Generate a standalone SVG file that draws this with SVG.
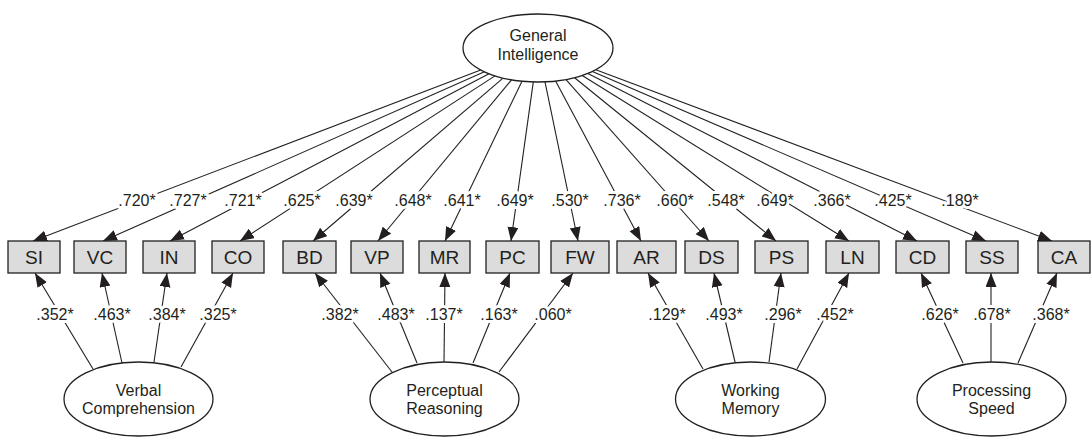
<svg xmlns="http://www.w3.org/2000/svg" width="1092" height="437" viewBox="0 0 1092 437">
<style>
text{font-family:"Liberation Sans",Arial,sans-serif;fill:#231f20;text-anchor:middle}
.box rect{fill:#dcdcdc;stroke:#231f20;stroke-width:1.3}
.box text{font-size:19px}
.lat ellipse{fill:#fff;stroke:#231f20;stroke-width:1.3}
.lat text{font-size:16px}
.edges line{stroke:#231f20;stroke-width:1.1;marker-end:url(#ah)}
.lbl text{font-size:16px;stroke:#fff;stroke-width:6;stroke-linejoin:round;paint-order:stroke}
</style>
<defs>
<marker id="ah" markerUnits="userSpaceOnUse" markerWidth="15" markerHeight="12" refX="14" refY="5.5" orient="auto">
<path d="M0,0 L14,5.5 L0,11 z" fill="#231f20"/>
</marker>
</defs>
<g class="edges" id="connectors">
<line x1="480.7" y1="69.9" x2="33" y2="241"/>
<line x1="484.4" y1="71.8" x2="103" y2="241"/>
<line x1="489" y1="73.7" x2="170" y2="241"/>
<line x1="495" y1="75.9" x2="240" y2="241"/>
<line x1="503" y1="78.1" x2="313" y2="241"/>
<line x1="511.6" y1="79.8" x2="378" y2="241"/>
<line x1="522" y1="81.2" x2="445" y2="241"/>
<line x1="533.3" y1="81.9" x2="511" y2="241"/>
<line x1="545" y1="81.9" x2="578" y2="241"/>
<line x1="555.6" y1="81" x2="641" y2="241"/>
<line x1="566" y1="79.6" x2="709" y2="241"/>
<line x1="574.6" y1="77.7" x2="776" y2="241"/>
<line x1="582.2" y1="75.5" x2="849" y2="241"/>
<line x1="587.9" y1="73.4" x2="917" y2="241"/>
<line x1="592.4" y1="71.4" x2="986" y2="241"/>
<line x1="595.8" y1="69.7" x2="1052" y2="241"/>
<line x1="93" y1="369" x2="35" y2="273"/>
<line x1="122" y1="363" x2="102" y2="273"/>
<line x1="154" y1="362" x2="167" y2="273"/>
<line x1="181" y1="367" x2="233" y2="273"/>
<line x1="392" y1="372" x2="315" y2="273"/>
<line x1="417" y1="363" x2="380" y2="273"/>
<line x1="444" y1="362" x2="445" y2="273"/>
<line x1="473" y1="363" x2="510" y2="273"/>
<line x1="499" y1="372" x2="573" y2="273"/>
<line x1="703" y1="369" x2="648" y2="273"/>
<line x1="735" y1="362" x2="714" y2="273"/>
<line x1="769" y1="362" x2="781" y2="273"/>
<line x1="797" y1="369" x2="849" y2="273"/>
<line x1="963" y1="363" x2="921" y2="273"/>
<line x1="991" y1="362" x2="991" y2="273"/>
<line x1="1018" y1="363" x2="1057" y2="273"/>
<g class="lbl">
<text x="137" y="206">.720*</text>
<text x="188" y="206">.727*</text>
<text x="243" y="206">.721*</text>
<text x="302" y="206">.625*</text>
<text x="354" y="206">.639*</text>
<text x="413" y="206">.648*</text>
<text x="462" y="206">.641*</text>
<text x="515" y="206">.649*</text>
<text x="570" y="206">.530*</text>
<text x="622" y="206">.736*</text>
<text x="675" y="206">.660*</text>
<text x="726" y="206">.548*</text>
<text x="775" y="206">.649*</text>
<text x="832" y="206">.366*</text>
<text x="893" y="206">.425*</text>
<text x="960" y="206">.189*</text>
<text x="55" y="320">.352*</text>
<text x="112" y="320">.463*</text>
<text x="167" y="320">.384*</text>
<text x="218" y="320">.325*</text>
<text x="340" y="320">.382*</text>
<text x="396" y="320">.483*</text>
<text x="444" y="320">.137*</text>
<text x="499" y="320">.163*</text>
<text x="553" y="320">.060*</text>
<text x="667" y="320">.129*</text>
<text x="724" y="320">.493*</text>
<text x="783" y="320">.296*</text>
<text x="835" y="320">.452*</text>
<text x="940" y="320">.626*</text>
<text x="992" y="320">.678*</text>
<text x="1051" y="320">.368*</text>
</g>
</g>
<g id="GI" class="lat"><ellipse cx="538" cy="48" rx="75" ry="34"/><text x="538" y="41">General</text><text x="538" y="60">Intelligence</text></g>
<g id="VCF" class="lat"><ellipse cx="138.5" cy="399" rx="74.5" ry="37"/><text x="138.5" y="395.5">Verbal</text><text x="138.5" y="414">Comprehension</text></g>
<g id="PRF" class="lat"><ellipse cx="444.5" cy="399" rx="74.5" ry="37"/><text x="444.5" y="395.5">Perceptual</text><text x="444.5" y="414">Reasoning</text></g>
<g id="WMF" class="lat"><ellipse cx="750.5" cy="399" rx="75" ry="37"/><text x="750.5" y="395.5">Working</text><text x="750.5" y="414">Memory</text></g>
<g id="PSF" class="lat"><ellipse cx="991.5" cy="399" rx="74.5" ry="37"/><text x="991.5" y="395.5">Processing</text><text x="991.5" y="414">Speed</text></g>
<g id="SI" class="box"><rect x="8" y="241" width="52" height="32"/><text x="34" y="263.5">SI</text></g>
<g id="VC" class="box"><rect x="74" y="241" width="52" height="32"/><text x="100" y="263.5">VC</text></g>
<g id="IN" class="box"><rect x="143" y="241" width="52" height="32"/><text x="169" y="263.5">IN</text></g>
<g id="CO" class="box"><rect x="212" y="241" width="52" height="32"/><text x="238" y="263.5">CO</text></g>
<g id="BD" class="box"><rect x="283" y="241" width="53" height="32"/><text x="309.5" y="263.5">BD</text></g>
<g id="VP" class="box"><rect x="351" y="241" width="52" height="32"/><text x="377" y="263.5">VP</text></g>
<g id="MR" class="box"><rect x="419" y="241" width="51" height="32"/><text x="444.5" y="263.5">MR</text></g>
<g id="PC" class="box"><rect x="486" y="241" width="53" height="32"/><text x="512.5" y="263.5">PC</text></g>
<g id="FW" class="box"><rect x="551" y="241" width="58" height="32"/><text x="580" y="263.5">FW</text></g>
<g id="AR" class="box"><rect x="617" y="241" width="59" height="32"/><text x="646.5" y="263.5">AR</text></g>
<g id="DS" class="box"><rect x="685" y="241" width="53" height="32"/><text x="711.5" y="263.5">DS</text></g>
<g id="PS" class="box"><rect x="755" y="241" width="53" height="32"/><text x="781.5" y="263.5">PS</text></g>
<g id="LN" class="box"><rect x="826" y="241" width="53" height="32"/><text x="852.5" y="263.5">LN</text></g>
<g id="CD" class="box"><rect x="896" y="241" width="53" height="32"/><text x="922.5" y="263.5">CD</text></g>
<g id="SS" class="box"><rect x="966" y="241" width="52" height="32"/><text x="992" y="263.5">SS</text></g>
<g id="CA" class="box"><rect x="1038" y="241" width="52" height="32"/><text x="1064" y="263.5">CA</text></g>
</svg>
